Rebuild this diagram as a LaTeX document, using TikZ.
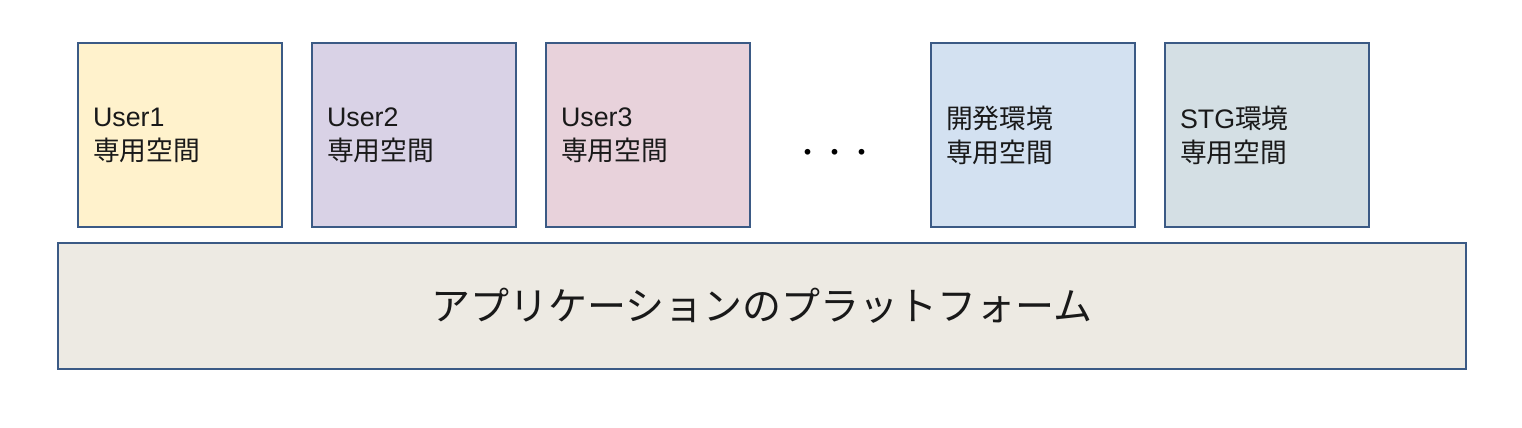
\documentclass[tikz,border=0pt]{standalone}
\usepackage{fontspec}
\setmainfont{Liberation Sans}
\newfontfamily\cjk{Noto Sans CJK JP}
\usepackage{tikz}

\definecolor{edgeblue}{HTML}{3B5A85}
\definecolor{userone}{HTML}{FFF2CC}
\definecolor{usertwo}{HTML}{D9D2E6}
\definecolor{userthree}{HTML}{E8D2DB}
\definecolor{devenv}{HTML}{D3E1F1}
\definecolor{stgenv}{HTML}{D4DFE4}
\definecolor{platbg}{HTML}{EDEAE3}

\tikzset{
  space/.style={draw=edgeblue, line width=0.6pt, rectangle, align=left,
    text width=87pt, inner xsep=7.5pt, minimum height=92pt,
    font=\fontsize{13.4}{17}\selectfont, text=black!90},
  platform/.style={draw=edgeblue, line width=0.6pt, rectangle, fill=platbg,
    minimum width=704pt, minimum height=63pt, inner sep=0pt,
    font=\cjk\fontsize{19.5}{23}\selectfont, text=black!90}
}

\begin{document}
\begin{tikzpicture}[x=0.5pt, y=-0.5pt]
			\useasboundingbox (0,0) rectangle (1522,428);
			
			% per-user spaces
			\node[space, fill=userone] (u1) at (180,135) {User1\\{\cjk 専用空間}};
			\node[space, fill=usertwo] (u2) at (414,135) {User2\\{\cjk 専用空間}};
			\node[space, fill=userthree] (u3) at (648,135) {User3\\{\cjk 専用空間}};
			\node[font=\cjk\fontsize{13.5}{16}\selectfont] (more) at (835,156) {・・・};
			\node[space, fill=devenv] (dev) at (1033,135) {{\cjk 開発環境}\\{\cjk 専用空間}};
			\node[space, fill=stgenv] (stg) at (1267,135) {STG{\cjk 環境}\\{\cjk 専用空間}};
			
			% shared platform
			\node[platform] (plat) at (762,306) {アプリケーションのプラットフォーム};
		\end{tikzpicture}
\end{document}
